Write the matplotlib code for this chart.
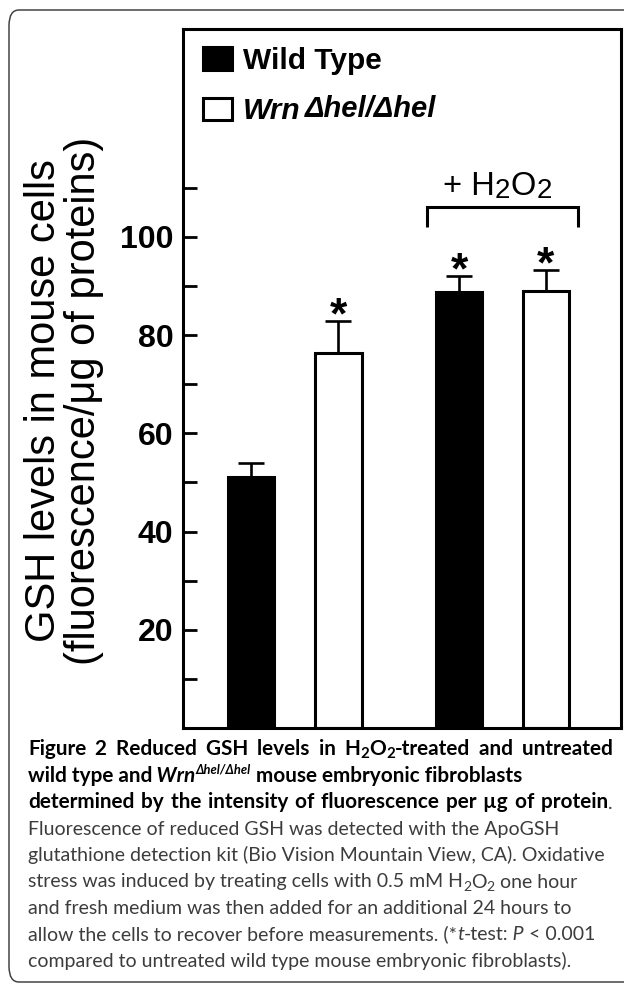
import re

import matplotlib
matplotlib.use("Agg")
import matplotlib.pyplot as plt
from matplotlib.patches import FancyBboxPatch
from matplotlib.text import Annotation

# values (fluorescence / ug of protein)
groups = ["Wild Type", "Wrn", "Wild Type + H2O2", "Wrn + H2O2"]
gsh_mean = [51.1, 76.3, 88.7, 89.0]
gsh_err = [2.8, 6.5, 3.3, 4.2]
significant = [False, True, True, True]
legend_labels = ["Wild Type", "Wrn"]
major_ticks = [20, 40, 60, 80, 100]
minor_ticks = [10, 30, 50, 70, 90, 110]

CHART_FONT = "Liberation Sans"
CAPTION_FONT = "Lato"

# caption pieces: (text, style); lines 1 and 3 are justified in the original
caption_lines = [
    [("Figure 2 Reduced GSH levels in H", "b"), ("2", "b_sub"), ("O", "b"),
     ("2", "b_sub"), ("-treated and untreated", "b")],
    [("wild type and", "b"), (" Wrn", "bi"), ("\u0394hel/\u0394hel", "bi_sup"),
     (" mouse embryonic fibroblasts", "b")],
    [("determined by the intensity of fluorescence per \u00b5g of protein", "b"), (".", "r")],
    [("Fluorescence of reduced GSH was detected with the ApoGSH", "r")],
    [("glutathione detection kit (Bio Vision Mountain View, CA). Oxidative", "r")],
    [("stress was induced by treating cells with 0.5 mM H", "r"), ("2", "r_sub"),
     ("O", "r"), ("2", "r_sub"), (" one hour", "r")],
    [("and fresh medium was then added for an additional 24 hours to", "r")],
    [("allow the cells to recover before measurements. (*", "r"), ("t", "i"),
     ("-test:", "r"), (" P", "i"), (" < 0.001", "r")],
    [("compared to untreated wild type mouse embryonic fibroblasts).", "r")],
]
justified = [True, False, True, False, False, False, False, False, False]

BODY = "#3c3c3c"
STYLES = {
    "b": dict(weight="bold", color="black", scale=1.07),
    "b_sub": dict(weight="bold", color="black", scale=0.77, dy=-1.5),
    "bi": dict(weight="bold", style="italic", color="black", scale=1.07),
    "bi_sup": dict(weight="bold", style="italic", color="black", scale=0.66, dy=7),
    "r": dict(color=BODY),
    "r_sub": dict(color=BODY, scale=0.72, dy=-1.5),
    "i": dict(style="italic", color=BODY),
}


def rich_line(fig, x, y, pieces, size, family, split_words=False):
    """Chain text pieces along one baseline; returns the artists."""
    arts = []
    first = prev = None
    for text, kind in pieces:
        st = STYLES[kind]
        kw = dict(fontsize=size * st.get("scale", 1.0), family=family,
                  fontweight=st.get("weight", "normal"),
                  fontstyle=st.get("style", "normal"), color=st["color"])
        tokens = re.findall(r"\s*\S+", text) if split_words else [text]
        for tok in tokens:
            if first is None:
                first = prev = fig.text(x, y, tok, ha="left", va="baseline", **kw)
                arts.append(first)
                continue
            ann = Annotation(tok, xy=(1, 0), xycoords=(prev, first),
                             xytext=(0, st.get("dy", 0)), textcoords="offset points",
                             ha="left", va="bottom", **kw)
            fig.add_artist(ann)
            arts.append(ann)
            prev = ann
    return arts


W, H = 624, 984
fig = plt.figure(figsize=(W / 100, H / 100), dpi=100)

# rounded panel frame
fig.patches.append(FancyBboxPatch(
    (9 / W, 2 / H), 1.2, 972 / H, boxstyle="round,pad=0,rounding_size=0.016",
    transform=fig.transFigure, fill=False, edgecolor="#444444", linewidth=1.1))

ax = fig.add_axes([183 / W, 1 - 728 / H, 438 / W, 699 / H])

x_pos = [0, 1, 2.38, 3.37]
fills = ["black", "white", "black", "white"]
bars = ax.bar(x_pos, gsh_mean, width=0.53, color=fills, edgecolor="black",
              linewidth=2.2, zorder=2)
ax.errorbar(x_pos, gsh_mean, yerr=[[0] * len(gsh_err), gsh_err], fmt="none",
            ecolor="black", elinewidth=1.9, capsize=9.5, capthick=1.9, zorder=1)

for x, m, e, sig in zip(x_pos, gsh_mean, gsh_err, significant):
    if sig:
        ax.annotate("*", xy=(x, m + e), xytext=(0, -5), textcoords="offset points",
                    ha="center", va="baseline", fontsize=32, fontweight="bold",
                    family=CHART_FONT)

# bracket over the H2O2-treated pair
ax.plot([2.01, 2.01, 3.737, 3.737], [102, 106.1, 106.1, 102], color="black",
        linewidth=2.2, solid_capstyle="butt", solid_joinstyle="miter")
h_kw = dict(fontsize=23.5, family=CHART_FONT, color="black")
h_first = ax.text(2.19, 108.6, "+ H", ha="left", va="baseline", **h_kw)
prev = h_first
for txt, sub in [("2", True), ("O", False), ("2", True)]:
    ann = Annotation(txt, xy=(1, 0), xycoords=(prev, h_first),
                     xytext=(0.5 if sub else 0, -1.5 if sub else 0),
                     textcoords="offset points", ha="left", va="bottom",
                     fontsize=23.5 * (0.85 if sub else 1.0), family=CHART_FONT)
    ax.add_artist(ann)
    prev = ann

ax.set_xlim(-0.777, 4.229)
ax.set_ylim(0, 142.3)
ax.set_xticks([])
ax.set_yticks(major_ticks)
ax.set_yticks(minor_ticks, minor=True)
ax.tick_params(axis="y", which="both", direction="in", length=10, width=2, pad=7)
for lab in ax.get_yticklabels():
    lab.set_fontsize(23)
    lab.set_fontweight("bold")
    lab.set_family(CHART_FONT)
for sp in ax.spines.values():
    sp.set_linewidth(2.2)

ax.set_ylabel("GSH levels in mouse cells\n(fluorescence/\u03bcg of proteins)",
              fontsize=30, family=CHART_FONT, linespacing=1.0)
ax.yaxis.set_label_coords(-0.18, 0.468)

leg = ax.legend([bars[0], bars[1]], legend_labels, loc="upper left",
                bbox_to_anchor=(20 / 438, 1 - 18 / 699), frameon=False,
                borderpad=0, borderaxespad=0, handlelength=0.97, handleheight=0.77,
                handletextpad=0.37, labelspacing=0.75,
                prop={"family": CHART_FONT, "weight": "bold", "size": 21.5})
leg_texts = leg.get_texts()
leg_texts[1].set_fontstyle("italic")
sup = Annotation("\u0394hel/\u0394hel", xy=(1, 1), xycoords=leg_texts[1],
                 xytext=(3, 2), textcoords="offset points", ha="left", va="top",
                 fontsize=21, fontweight="bold", fontstyle="italic",
                 family=CHART_FONT, zorder=6)
ax.add_artist(sup)

caption_arts = []
for i, pieces in enumerate(caption_lines):
    caption_arts.append(rich_line(fig, 28 / W, 1 - (755 + 26.5 * i) / H, pieces,
                                  14, CAPTION_FONT, split_words=justified[i]))

# justify: spread the leftover width over the word gaps
fig.canvas.draw()
right_px = 613
for arts, just in zip(caption_arts, justified):
    if not just:
        continue
    gaps = [a for a in arts[1:] if a.get_text().startswith(" ")]
    slack = right_px - arts[-1].get_window_extent().x1
    if gaps and slack > 0:
        extra_pt = slack / len(gaps) * 72 / fig.dpi
        for a in gaps:
            a.xyann = (extra_pt, a.xyann[1])

fig.savefig("out.png", dpi=100)
